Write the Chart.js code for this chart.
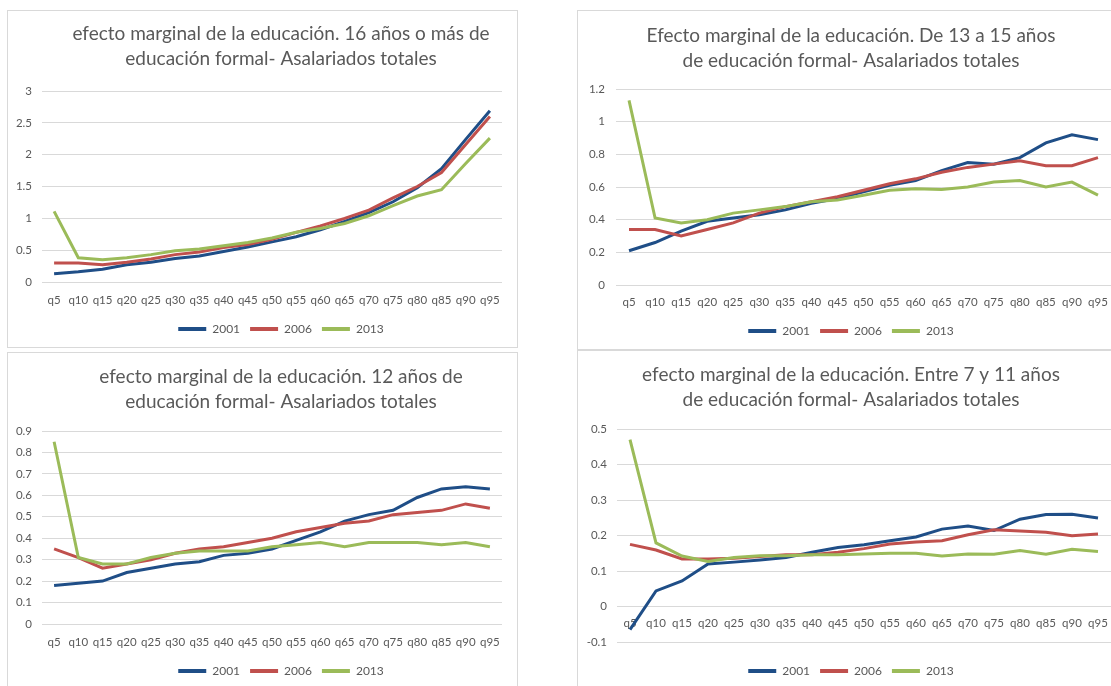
<!DOCTYPE html>
<html>
<head>
<meta charset="utf-8">
<script src="https://cdn.jsdelivr.net/npm/chart.js@4"></script>
<style>
  body { margin: 0; background: #fff; width: 1111px; height: 686px; overflow: hidden; position: relative; }
  .frame { position: absolute; box-sizing: border-box; border: 1px solid #d9d9d9; }
  canvas { position: absolute; }
</style>
</head>
<body>
<div class="frame" style="left:7px;top:10px;width:511px;height:338px"></div>
<div class="frame" style="left:577px;top:10px;width:600px;height:340px"></div>
<div class="frame" style="left:7px;top:352px;width:511px;height:400px"></div>
<div class="frame" style="left:577px;top:350px;width:600px;height:400px"></div>
<canvas id="c1" width="546" height="338" style="left:8px;top:11px"></canvas>
<canvas id="c2" width="546" height="340" style="left:578px;top:11px"></canvas>
<canvas id="c3" width="546" height="338" style="left:8px;top:353px"></canvas>
<canvas id="c4" width="546" height="340" style="left:578px;top:351px"></canvas>
<script>
const quantiles = ["q5", "q10", "q15", "q20", "q25", "q30", "q35", "q40", "q45", "q50",
  "q55", "q60", "q65", "q70", "q75", "q80", "q85", "q90", "q95"];
const years = ["2001", "2006", "2013"];

// 16 años o más
const mas16_2001 = [0.13, 0.16, 0.20, 0.27, 0.31, 0.37, 0.41, 0.48, 0.55, 0.63, 0.71, 0.82, 0.95, 1.09, 1.26, 1.48, 1.78, 2.24, 2.69];
const mas16_2006 = [0.30, 0.30, 0.27, 0.31, 0.36, 0.43, 0.47, 0.54, 0.59, 0.67, 0.78, 0.88, 1.00, 1.13, 1.32, 1.50, 1.72, 2.16, 2.60];
const mas16_2013 = [1.11, 0.38, 0.35, 0.38, 0.43, 0.49, 0.52, 0.57, 0.62, 0.69, 0.78, 0.84, 0.92, 1.04, 1.20, 1.35, 1.45, 1.86, 2.26];

// 13 a 15 años
const de13_2001 = [0.21, 0.26, 0.33, 0.39, 0.41, 0.43, 0.46, 0.50, 0.53, 0.57, 0.61, 0.64, 0.70, 0.75, 0.74, 0.78, 0.87, 0.92, 0.89];
const de13_2006 = [0.34, 0.34, 0.30, 0.34, 0.38, 0.44, 0.48, 0.51, 0.54, 0.58, 0.62, 0.65, 0.69, 0.72, 0.74, 0.76, 0.73, 0.73, 0.78];
const de13_2013 = [1.13, 0.41, 0.38, 0.40, 0.44, 0.46, 0.48, 0.51, 0.52, 0.55, 0.58, 0.59, 0.585, 0.60, 0.63, 0.64, 0.60, 0.63, 0.55];

// 12 años
const doce_2001 = [0.18, 0.19, 0.20, 0.24, 0.26, 0.28, 0.29, 0.32, 0.33, 0.35, 0.39, 0.43, 0.48, 0.51, 0.53, 0.59, 0.63, 0.64, 0.63];
const doce_2006 = [0.35, 0.31, 0.26, 0.28, 0.30, 0.33, 0.35, 0.36, 0.38, 0.40, 0.43, 0.45, 0.47, 0.48, 0.51, 0.52, 0.53, 0.56, 0.54];
const doce_2013 = [0.85, 0.31, 0.28, 0.28, 0.31, 0.33, 0.34, 0.34, 0.34, 0.36, 0.37, 0.38, 0.36, 0.38, 0.38, 0.38, 0.37, 0.38, 0.36];

// entre 7 y 11 años
const e7_2001 = [-0.065, 0.044, 0.072, 0.12, 0.125, 0.131, 0.138, 0.153, 0.166, 0.174, 0.185, 0.196, 0.218, 0.227, 0.214, 0.246, 0.259, 0.26, 0.249];
const e7_2006 = [0.175, 0.159, 0.134, 0.134, 0.136, 0.141, 0.146, 0.146, 0.153, 0.163, 0.176, 0.182, 0.185, 0.202, 0.216, 0.213, 0.209, 0.199, 0.204];
const e7_2013 = [0.47, 0.179, 0.142, 0.127, 0.138, 0.143, 0.143, 0.146, 0.146, 0.148, 0.15, 0.15, 0.142, 0.148, 0.147, 0.158, 0.147, 0.161, 0.155];

const colors = ["#1F4E87", "#C0504D", "#9BBB59"];
const textColor = "#595959";
const gridColor = "#d9d9d9";
const fontFamily = "Lato, 'Open Sans', sans-serif";
const titleSize = 19;
const titleLine = 25;
const tickSize = 11.5;
const legendSize = 12;
const legendPad = 10;

function makeChart(id, titleLines, series, yMin, yMax, yStep, b) {
  const legendTop = b.legendY - legendPad - legendSize / 2;
  const legendH = legendSize + legendPad + 10;
  const titleTop = b.titleY - titleLine / 2;
  const scales = {
    x: {
      type: "category",
      offset: true,
      position: b.xAtZero ? { y: 0 } : "bottom",
      grid: { display: false, drawTicks: false },
      border: { display: false },
      ticks: { color: textColor, font: { family: fontFamily, size: tickSize }, padding: b.xLabel - tickSize * 0.6, maxRotation: 0, autoSkip: false },
      afterFit: (s) => { s.height = legendTop - b.plotBottom; },
    },
    y: {
      type: "linear",
      position: "left",
      min: yMin,
      max: yMax,
      ticks: {
        stepSize: yStep,
        color: textColor,
        font: { family: fontFamily, size: tickSize },
        padding: b.plotLeft - b.yLabelRight,
        callback: (v) => String(Math.round(v * 100) / 100 || 0),
      },
      grid: { color: gridColor, lineWidth: 1, drawTicks: false },
      border: { display: false },
      afterFit: (s) => { s.width = b.plotLeft; },
    },
    // blank strip on the right, it only pushes the plot edge in
    yr: {
      type: "linear",
      position: "right",
      grid: { display: false },
      border: { display: false },
      ticks: { display: false },
      afterFit: (s) => { s.width = b.w - b.plotRight; },
    },
  };
  if (b.xAtZero) {
    // empty band under the plot so the legend keeps its place
    scales.xb = {
      type: "category",
      position: "bottom",
      grid: { display: false, drawTicks: false },
      border: { display: false },
      ticks: { display: false },
      afterFit: (s) => { s.height = legendTop - b.plotBottom; },
    };
  }
  new Chart(document.getElementById(id), {
    type: "line",
    data: {
      labels: quantiles,
      datasets: series.map((values, i) => ({
        label: years[i],
        data: values,
        borderColor: colors[i],
        backgroundColor: colors[i],
        borderWidth: 3,
        pointRadius: 0,
        pointHoverRadius: 0,
        tension: 0,
        order: 3 - i,
      })),
    },
    options: {
      responsive: false,
      animation: false,
      events: [],
      layout: { padding: { left: 0, right: 0, top: 0, bottom: b.h - legendTop - legendH } },
      plugins: {
        title: {
          display: true,
          text: titleLines,
          color: textColor,
          font: { family: fontFamily, size: titleSize, weight: "normal", lineHeight: titleLine / titleSize },
          padding: { top: titleTop, bottom: b.plotTop - titleTop - 2 * titleLine },
        },
        legend: {
          position: "bottom",
          labels: {
            color: textColor,
            font: { family: fontFamily, size: legendSize },
            boxWidth: 28,
            boxHeight: 4,
            padding: legendPad,
            sort: (a, c) => a.datasetIndex - c.datasetIndex,
            generateLabels: (chart) =>
              Chart.defaults.plugins.legend.labels.generateLabels(chart).map((it) => ({ ...it, lineWidth: 0 })),
          },
        },
        tooltip: { enabled: false },
      },
      scales: scales,
    },
  });
}

makeChart("c1",
  ["efecto marginal de la educación. 16 años o más de", "educación formal- Asalariados totales"],
  [mas16_2001, mas16_2006, mas16_2013], 0, 3, 0.5,
  { w: 546, h: 338, plotLeft: 34, plotRight: 494, plotTop: 80, plotBottom: 271, xLabel: 18, legendY: 318, titleY: 23, yLabelRight: 24 });

makeChart("c2",
  ["Efecto marginal de la educación. De 13 a 15 años", "de educación formal- Asalariados totales"],
  [de13_2001, de13_2006, de13_2013], 0, 1.2, 0.2,
  { w: 546, h: 340, plotLeft: 38, plotRight: 533, plotTop: 78, plotBottom: 274, xLabel: 17, legendY: 320, titleY: 25, yLabelRight: 27 });

makeChart("c3",
  ["efecto marginal de la educación. 12 años de", "educación formal- Asalariados totales"],
  [doce_2001, doce_2006, doce_2013], 0, 0.9, 0.1,
  { w: 546, h: 338, plotLeft: 34, plotRight: 494, plotTop: 78, plotBottom: 271, xLabel: 18, legendY: 318, titleY: 24, yLabelRight: 24 });

makeChart("c4",
  ["efecto marginal de la educación. Entre 7 y 11 años", "de educación formal- Asalariados totales"],
  [e7_2001, e7_2006, e7_2013], -0.1, 0.5, 0.1,
  { w: 546, h: 340, plotLeft: 39, plotRight: 533, plotTop: 78, plotBottom: 291, xLabel: 17, xAtZero: true, legendY: 320, titleY: 24, yLabelRight: 29 });
</script>
</body>
</html>
